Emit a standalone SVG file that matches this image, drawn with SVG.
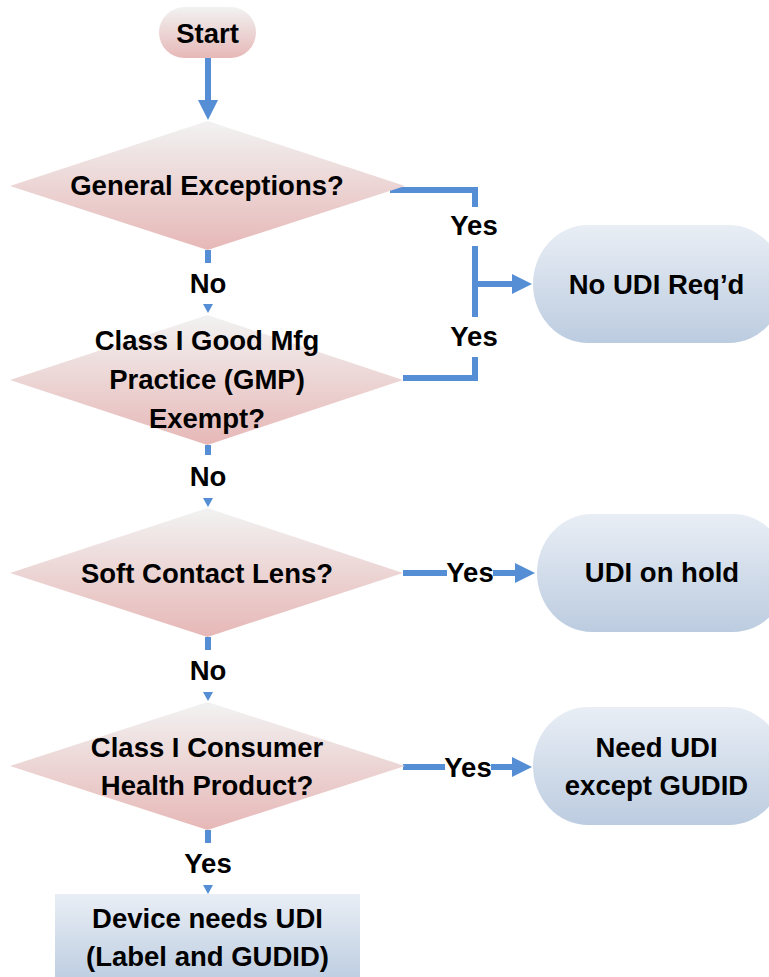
<svg xmlns="http://www.w3.org/2000/svg" width="769" height="977" viewBox="0 0 769 977">
<defs>
<linearGradient id="pink" x1="0" y1="0" x2="0" y2="1">
<stop offset="0" stop-color="#F2F2F2"/>
<stop offset="1" stop-color="#E6B8B7"/>
</linearGradient>
<linearGradient id="blue" x1="0" y1="0" x2="0" y2="1">
<stop offset="0" stop-color="#E9EEF5"/>
<stop offset="1" stop-color="#BCCCE0"/>
</linearGradient>
<style>
text{font-family:"Liberation Sans",Arial,sans-serif;font-weight:bold;font-size:27.5px;fill:#000;text-anchor:middle}
.ln{stroke:#558ED5;stroke-width:6;fill:none}
.tri{fill:#558ED5}
.dia{fill:url(#pink)}
.pill{fill:url(#blue)}
</style>
</defs>

<g id="connectors">
<line class="ln" x1="208" y1="58" x2="208" y2="101"/>
<path class="tri" d="M198,100 L218,100 L208,120 Z"/>
<line class="ln" x1="208" y1="250" x2="208" y2="263"/>
<path class="tri" d="M203,304 L213,304 L208,313 Z"/>
<line class="ln" x1="208" y1="445" x2="208" y2="455"/>
<path class="tri" d="M203,498 L213,498 L208,507 Z"/>
<line class="ln" x1="208" y1="637" x2="208" y2="650"/>
<path class="tri" d="M203,692 L213,692 L208,701 Z"/>
<line class="ln" x1="208" y1="830" x2="208" y2="843"/>
<path class="tri" d="M203,885 L213,885 L208,894 Z"/>
<polyline class="ln" points="390,190 475,190 475,207"/>
<line class="ln" x1="475" y1="246" x2="475" y2="317"/>
<polyline class="ln" points="403,378 475,378 475,357"/>
<line class="ln" x1="475" y1="284" x2="514" y2="284"/>
<path class="tri" d="M512,274 L532,284 L512,294 Z"/>
<line class="ln" x1="403" y1="573" x2="447" y2="573"/>
<line class="ln" x1="493" y1="573" x2="517" y2="573"/>
<path class="tri" d="M515,563 L535,573 L515,583 Z"/>
<line class="ln" x1="403" y1="767" x2="445" y2="767"/>
<line class="ln" x1="491" y1="767" x2="514" y2="767"/>
<path class="tri" d="M512,757 L532,767 L512,777 Z"/>
<text x="208" y="293">No</text>
<text x="208" y="486">No</text>
<text x="208" y="680">No</text>
<text x="208" y="873">Yes</text>
<text x="474" y="235">Yes</text>
<text x="474" y="346">Yes</text>
<text x="470" y="582">Yes</text>
<text x="468" y="777">Yes</text>
</g>

<g id="start">
<rect x="159" y="7" width="97" height="51" rx="25.5" fill="url(#pink)"/>
<text x="207.5" y="43">Start</text>
</g>

<g id="d1">
<polygon class="dia" points="207.5,121 405,186 207.5,250 10,186"/>
<text x="207" y="195">General Exceptions?</text>
</g>

<g id="d2">
<polygon class="dia" points="207.5,315 403,380 207.5,445 10,380"/>
<text x="207" y="350">Class I Good Mfg</text>
<text x="207" y="389">Practice (GMP)</text>
<text x="207" y="428">Exempt?</text>
</g>

<g id="d3">
<polygon class="dia" points="207.5,508 403,573 207.5,637 10,573"/>
<text x="207" y="583">Soft Contact Lens?</text>
</g>

<g id="d4">
<polygon class="dia" points="207.5,702 405,766 207.5,830 10,766"/>
<text x="207" y="757">Class I Consumer</text>
<text x="207" y="795">Health Product?</text>
</g>

<g id="noudi">
<rect class="pill" x="533" y="225" width="251" height="118" rx="55" ry="59"/>
<text x="656.5" y="294">No UDI Req’d</text>
</g>

<g id="hold">
<rect class="pill" x="537" y="514" width="251" height="118" rx="55" ry="59"/>
<text x="662" y="582">UDI on hold</text>
</g>

<g id="needudi">
<rect class="pill" x="533" y="707" width="251" height="118" rx="55" ry="59"/>
<text x="656.5" y="757">Need UDI</text>
<text x="656.5" y="795">except GUDID</text>
</g>

<g id="device">
<rect x="55" y="894" width="305" height="90" fill="url(#blue)"/>
<text x="207.5" y="928">Device needs UDI</text>
<text x="207.5" y="966">(Label and GUDID)</text>
</g>
</svg>
